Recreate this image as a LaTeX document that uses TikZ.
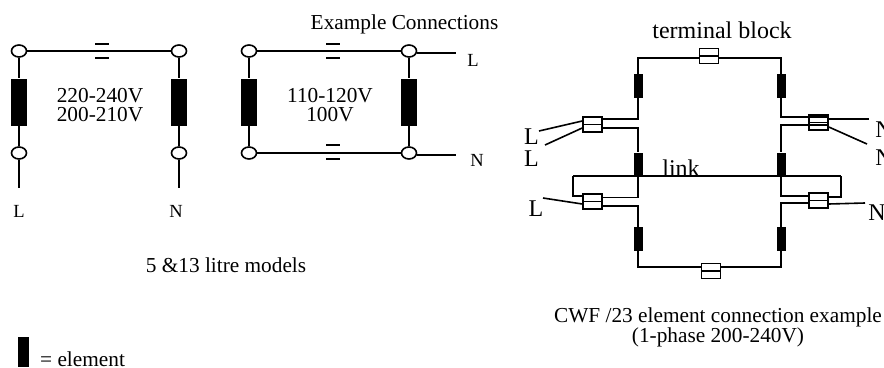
\documentclass[tikz,border=0pt]{standalone}
\usepackage{fontspec}
\setmainfont{Liberation Serif}
\usetikzlibrary{shapes.geometric}
\usetikzlibrary{calc}

\tikzset{
	wire/.style={line width=1.6pt},
	lug/.style={draw,ellipse,fill=white,line width=1.6pt,minimum width=15pt,minimum height=12pt,inner sep=0pt},
	element/.style={fill=black,minimum width=16pt,minimum height=47pt,inner sep=0pt},
	smallelement/.style={fill=black,minimum width=9pt,minimum height=24pt,inner sep=0pt},
	tblock/.style={draw,fill=white,line width=1.6pt,minimum width=19pt,minimum height=15pt,inner sep=0pt},
	caption/.style={font=\fontsize{21.3}{19}\selectfont,align=center,inner sep=0pt},
	smallcaption/.style={font=\fontsize{18.5}{19}\selectfont,inner sep=0pt},
	bigcaption/.style={font=\fontsize{24}{24}\selectfont,inner sep=0pt}
}

\begin{document}
\begin{tikzpicture}[x=1pt,y=-1pt]
\useasboundingbox (0,0) rectangle (884,367);

% 5 and 13 litre models
\foreach \name/\x/\y in {aTL/19/51,aTR/179/51,aBL/19/153,aBR/179/153,bTL/249/51,bTR/409/51,bBL/249/153,bBR/409/153}
	\node[lug] (\name) at (\x,\y) {};
\foreach \name/\x in {aL/19,aR/179,bL/249,bR/409}
	\node[element] (\name) at (\x,102) {};
\coordinate (aLend) at (19,188);
\coordinate (aRend) at (179,188);
\coordinate (bLine) at (456,53);
\coordinate (bNine) at (456,155);

\draw[wire] (aTL) -- (aL) -- (aBL) -- (aLend);
\draw[wire] (aTR) -- (aR) -- (aBR) -- (aRend);
\draw[wire] (aTL) -- (aTR);
\draw[wire] (bTL) -- (bL) -- (bBL);
\draw[wire] (bTR) -- (bR) -- (bBR);
\draw[wire] (bTL) -- (bTR);
\draw[wire] (bBL) -- (bBR);
\draw[wire] (bTR.east |- bLine) -- (bLine);
\draw[wire] (bBR.east |- bNine) -- (bNine);

% the small = marks
\foreach \x/\y in {102/44,102/58,333/44,333/58,333/145,333/159}
	\draw[wire] (\x-7,\y) -- (\x+7,\y);

\node[caption] (aVolts) at (100,105) {220-240V\\200-210V};
\node[caption] (bVolts) at (330,105) {110-120V\\100V};
\node[smallcaption] (aLlabel) at (19,211) {L};
\node[smallcaption] (aNlabel) at (176,211) {N};
\node[smallcaption] (bLlabel) at (473,60) {L};
\node[smallcaption] (bNlabel) at (477,160) {N};
\node[caption] (connTitle) at (404.5,24) {Example Connections};
\node[caption] (modelsTitle) at (226,265) {5 \&13 litre models};

% CWF/23
\node[tblock] (tTop) at (709,56) {};
\node[tblock] (tBot) at (711,271) {};
\node[tblock] (tLU) at (592.5,124.5) {};
\node[tblock] (tLD) at (592.5,201.5) {};
\node[tblock] (tRU) at (818.5,122.5) {};
\node[tblock] (tRD) at (818.5,200.5) {};
\foreach \name in {tTop,tBot,tLU,tLD,tRU,tRD}
	\draw[wire] (\name.west) -- (\name.east);

\foreach \name/\x/\y in {eLU/638/86,eLM/638/164.5,eLD/638/239,eRU/781/86,eRM/781/164.5,eRD/781/239}
	\node[smallelement] (\name) at (\x,\y) {};

\coordinate (linkL) at (573,176);
\coordinate (linkR) at (841,176);

\draw[wire] ([yshift=-2pt]tTop.west) -| (eLU.north);
\draw[wire] ([yshift=-2pt]tTop.east) -| (eRU.north);
\draw[wire] ([yshift=5.5pt]tLU.east) -| (eLU.south);
\draw[wire] ([yshift=5.5pt]tRU.east) -| (eRU.south);
\draw[wire] ([yshift=-3.5pt]tLU.east) -| (eLM.north);
\draw[wire] ([yshift=-2.5pt]tRU.east) -| (eRM.north);
\draw[wire] ([yshift=4pt]tLD.east) -| (eLM.south);
\draw[wire] ([yshift=4.5pt]tRD.west) -| (eRM.south);
\draw[wire] ([yshift=-4.5pt]tLD.east) -| (eLD.north);
\draw[wire] ([yshift=-2.5pt]tRD.west) -| (eRD.north);
\draw[wire] ([yshift=4pt]tBot.west) -| (eLD.south);
\draw[wire] ([yshift=4pt]tBot.east) -| (eRD.south);
\draw[wire] (linkL) -- (linkR);
\draw[wire] (linkL) |- ([yshift=5.5pt]tLD.west);
\draw[wire] (linkR) |- ([yshift=3.5pt]tRD.east);

% supply leads
\coordinate (leadLa) at (539,131);
\coordinate (leadLb) at (545,145);
\coordinate (leadLc) at (543,198);
\coordinate (leadNa) at (869,119);
\coordinate (leadNb) at (867,144);
\coordinate (leadNc) at (865,203);
\draw[wire] (leadLa) -- ([yshift=3.5pt]tLU.west);
\draw[wire] (leadLb) -- ([yshift=-3.5pt]tLU.west);
\draw[wire] (leadLc) -- ([yshift=-2.5pt]tLD.west);
\draw[wire] (leadNa) -- ([yshift=3.5pt]tRU.east);
\draw[wire] (leadNb) -- ([yshift=-4.5pt]tRU.east);
\draw[wire] (leadNc) -- ([yshift=-3.5pt]tRD.east);

\node[bigcaption] (cLa) at (531.5,137) {L};
\node[bigcaption] (cLb) at (531.5,159) {L};
\node[bigcaption] (cLc) at (536,209) {L};
\node[bigcaption] (cNa) at (884,130) {N};
\node[bigcaption] (cNb) at (884,158) {N};
\node[bigcaption] (cNc) at (877,213) {N};
\node[bigcaption,anchor=base] (linkLabel) at (681,176) {link};
\node[bigcaption] (blockLabel) at (722,30) {terminal block};
\node[caption] (cwfTitle) at (718,327.5) {CWF /23 element connection example\\(1-phase 200-240V)};

% legend
\node[fill=black,minimum width=11pt,minimum height=30pt,inner sep=0pt] (legendBar) at (23.5,352) {};
\node[caption,anchor=base west] (legendText) at (40,366) {= element};
\end{tikzpicture}
\end{document}
